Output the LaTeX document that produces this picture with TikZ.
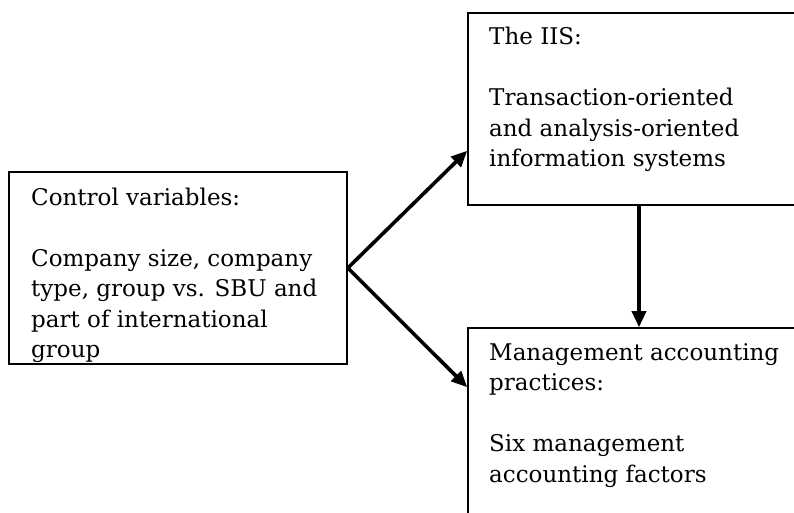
\documentclass[tikz,border=0pt]{standalone}
\usepackage{fontspec}
\setmainfont{DejaVu Serif}
\usetikzlibrary{arrows.meta}
\usetikzlibrary{positioning}
\tikzset{box/.style = {draw, line width=1.6pt, minimum width=342pt, minimum height=192pt}}
\tikzset{flow/.style = {-{Triangle[length=16pt,width=14pt]}, line width=3.6pt}}
\tikzset{words/.style = {anchor=base west, inner sep=0pt, font=\fontsize{23}{30.5}\selectfont}}

\begin{document}
\begin{tikzpicture}[x=1pt, y=-1pt]
				\useasboundingbox (0, 0) rectangle (794, 513);
				\node [box, minimum width=338pt] (0) at (178, 268) {};
				\node [box] (1) at (639, 109) {};
				\node [box, minimum height=212pt] (2) at (639, 434) {};
				\node [words] (3) at (31, 205) {\begin{tabular}[t]{@{}l@{}}Control variables:\\ \\Company size, company\\type, group vs. SBU and\\part of international\\group\end{tabular}};
				\node [words] (4) at (489, 45) {\begin{tabular}[t]{@{}l@{}}The IIS:\\ \\Transaction-oriented\\and analysis-oriented\\information systems\end{tabular}};
				\node [words] (5) at (489, 360) {\begin{tabular}[t]{@{}l@{}}Management accounting\\practices:\\ \\Six management\\accounting factors\end{tabular}};
				\draw [flow] (0.east) to ([yshift=55pt]1.south west);
				\draw [flow] (0.east) to ([yshift=-60pt]2.north west);
				\draw [flow] (1.south) to (2.north);
		\end{tikzpicture}
\end{document}
